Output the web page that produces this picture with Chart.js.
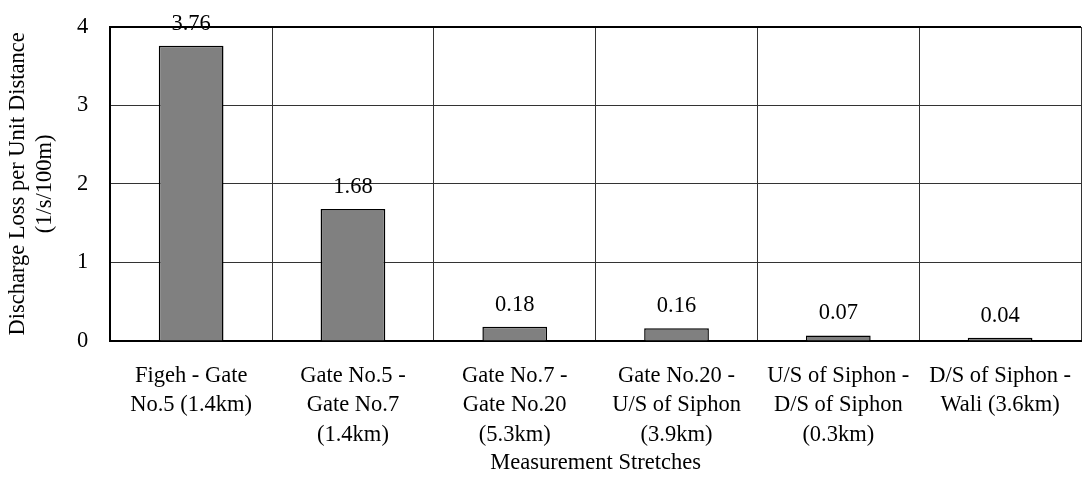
<!DOCTYPE html>
<html>
<head>
<meta charset="utf-8">
<script src="https://cdn.jsdelivr.net/npm/chart.js@4"></script>
<style>
  html, body { margin: 0; padding: 0; background: #fff; }
  #wrap { width: 1082px; height: 485px; }
</style>
</head>
<body>
<div id="wrap"><canvas id="myChart"></canvas></div>
<script>
// stretches along the canal
const stretchLabels = [
    ['Figeh - Gate', 'No.5 (1.4km)'],
    ['Gate No.5 -', 'Gate No.7', '(1.4km)'],
    ['Gate No.7 -', 'Gate No.20', '(5.3km)'],
    ['Gate No.20 -', 'U/S of Siphon', '(3.9km)'],
    ['U/S of Siphon -', 'D/S of Siphon', '(0.3km)'],
    ['D/S of Siphon -', 'Wali (3.6km)']
];
const lossValues = [3.76, 1.68, 0.18, 0.16, 0.07, 0.04];
const yTicks = [0, 1, 2, 3, 4];

const FONT = 'Liberation Serif, Times New Roman, serif';
const FSIZE = 22.5;

/**
 * small plugin that writes the value over every bar
 */
const valueLabels = {
    id: 'valueLabels',
    afterDatasetsDraw(chart) {
        const ctx = chart.ctx;
        const meta = chart.getDatasetMeta(0);
        ctx.save();
        ctx.font = FSIZE + 'px ' + FONT;
        ctx.fillStyle = '#000';
        ctx.textAlign = 'center';
        ctx.textBaseline = 'middle';
        meta.data.forEach(function (bar, i) {
            ctx.fillText(lossValues[i].toFixed(2), bar.x, bar.y - 22);
        });
        ctx.restore();
    }
};

function drawChart() {
    const ctx = document.getElementById('myChart').getContext('2d');
    new Chart(ctx, {
        type: 'bar',
        data: {
            labels: stretchLabels,
            datasets: [{
                data: lossValues,
                backgroundColor: '#808080',
                borderColor: '#000',
                borderWidth: 1.5,
                categoryPercentage: 1,
                barPercentage: 0.4
            }]
        },
        options: {
            responsive: true,
            maintainAspectRatio: false,
            animation: false,
            layout: { padding: { top: 27, right: 1, left: 5, bottom: 8 } },
            plugins: {
                legend: { display: false },
                tooltip: { enabled: false }
            },
            scales: {
                x: {
                    afterFit: function (scale) {
                        scale.paddingLeft = 0;
                        scale.paddingRight = 0;
                    },
                    grid: {
                        offset: true,
                        drawTicks: false,
                        color: function (c) { return c.index === stretchLabels.length ? '#c8c8c8' : '#333'; },
                        lineWidth: 1
                    },
                    border: { color: '#000', width: 2 },
                    ticks: {
                        color: '#000',
                        padding: 20,
                        maxRotation: 0,
                        autoSkip: false,
                        font: { family: FONT, size: FSIZE, lineHeight: 1.32 }
                    },
                    title: {
                        display: true,
                        text: 'Measurement Stretches',
                        color: '#000',
                        padding: { top: -20, bottom: 0 },
                        font: { family: FONT, size: FSIZE }
                    }
                },
                y: {
                    min: 0,
                    max: 4,
                    afterFit: function (scale) {
                        scale.paddingTop = 0;
                        scale.paddingBottom = 0;
                    },
                    afterBuildTicks: function (axis) {
                        axis.ticks = yTicks.map(function (v) { return { value: v }; });
                    },
                    grid: {
                        drawTicks: false,
                        color: function (c) { return c.tick && c.tick.value === 4 ? '#000' : '#333'; },
                        lineWidth: function (c) { return c.tick && c.tick.value === 4 ? 2 : 1; }
                    },
                    border: { color: '#000', width: 2 },
                    ticks: {
                        color: '#000',
                        padding: 22,
                        font: { family: FONT, size: FSIZE }
                    },
                    title: {
                        display: true,
                        text: ['Discharge Loss per Unit Distance', '(1/s/100m)'],
                        color: '#000',
                        padding: { top: 0, bottom: -4 },
                        font: { family: FONT, size: FSIZE, lineHeight: 1.2 }
                    }
                }
            }
        },
        plugins: [valueLabels]
    });
}

drawChart();
</script>
</body>
</html>
